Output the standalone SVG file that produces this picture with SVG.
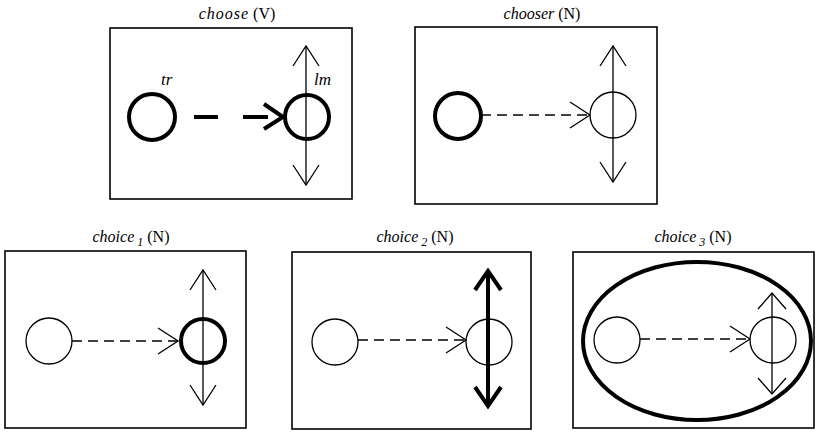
<svg xmlns="http://www.w3.org/2000/svg" width="817" height="432" viewBox="0 0 817 432">
<style>
.frame{fill:none;stroke:#000;stroke-width:1.6}
.title{font-family:"Liberation Serif",serif;font-size:16px;fill:#000;text-anchor:middle}
.it{font-style:italic}
.sub{font-style:italic;font-size:12px}
.lab{font-family:"Liberation Serif",serif;font-size:17px;font-style:italic;fill:#000}
.thin{fill:none;stroke:#000;stroke-width:1.3}
.thick{fill:none;stroke:#000;stroke-width:4}
.dash{fill:none;stroke:#000;stroke-width:1.3;stroke-dasharray:10 6}
.vert{fill:none;stroke:#000;stroke-width:1.3;marker-start:url(#open);marker-end:url(#open)}
.vertS{fill:none;stroke:#000;stroke-width:1.3;marker-start:url(#openS);marker-end:url(#openS)}
.vertB{fill:none;stroke:#000;stroke-width:4;marker-start:url(#openB);marker-end:url(#openB)}
</style>
<defs>
<marker id="open" markerUnits="userSpaceOnUse" viewBox="-1 -15 24 30" refX="20" refY="0" markerWidth="24" markerHeight="30" orient="auto-start-reverse" overflow="visible">
<path d="M0,-13 L20,0 L0,13" fill="none" stroke="#000" stroke-width="1.3"/>
</marker>
<marker id="openS" markerUnits="userSpaceOnUse" viewBox="-1 -15 24 30" refX="16" refY="0" markerWidth="24" markerHeight="30" orient="auto-start-reverse" overflow="visible">
<path d="M0,-14 L16,0 L0,14" fill="none" stroke="#000" stroke-width="1.3"/>
</marker>
<marker id="openB" markerUnits="userSpaceOnUse" viewBox="-3 -16 26 32" refX="19" refY="0" markerWidth="26" markerHeight="32" orient="auto-start-reverse" overflow="visible">
<path d="M0,-13 L19,0 L0,13" fill="none" stroke="#000" stroke-width="4" stroke-linejoin="miter"/>
</marker>
</defs>

<g id="panel-choose">
<rect class="frame" x="110" y="28" width="242" height="171"/>
<text class="title" x="237" y="19"><tspan class="it" letter-spacing="1">choose</tspan> (V)</text>
<g id="choose-tr"><circle class="thick" cx="152" cy="117" r="23"/><text class="lab" x="161" y="85">tr</text></g>
<g id="choose-lm"><circle class="thick" cx="307" cy="117" r="22"/><text class="lab" x="314" y="85">lm</text></g>
</g>

<g id="panel-chooser">
<rect class="frame" x="415" y="27" width="242" height="177"/>
<text class="title" x="542" y="19"><tspan class="it">chooser</tspan> (N)</text>
<g id="chooser-tr"><circle class="thick" cx="458" cy="116" r="23"/></g>
<g id="chooser-lm"><circle class="thin" cx="613" cy="115" r="23"/></g>
</g>

<g id="panel-choice1">
<rect class="frame" x="5" y="251" width="241" height="177"/>
<text class="title" x="131" y="242"><tspan class="it">choice</tspan><tspan class="sub" dy="4"> 1</tspan><tspan dy="-4"> (N)</tspan></text>
<g id="choice1-tr"><circle class="thin" cx="49" cy="341" r="23"/></g>
<g id="choice1-lm"><circle class="thick" cx="203" cy="341" r="22"/></g>
</g>

<g id="panel-choice2">
<rect class="frame" x="292" y="252" width="239" height="177"/>
<text class="title" x="415" y="242"><tspan class="it">choice</tspan><tspan class="sub" dy="4"> 2</tspan><tspan dy="-4"> (N)</tspan></text>
<g id="choice2-tr"><circle class="thin" cx="335" cy="342" r="23"/></g>
<g id="choice2-lm"><circle class="thin" cx="489" cy="342" r="23"/></g>
</g>

<g id="panel-choice3">
<rect class="frame" x="573" y="252" width="241" height="176"/>
<text class="title" x="693" y="242"><tspan class="it">choice</tspan><tspan class="sub" dy="4"> 3</tspan><tspan dy="-4">  (N)</tspan></text>
<ellipse class="thick" cx="697" cy="341" rx="114" ry="79"/>
<g id="choice3-tr"><circle class="thin" cx="617" cy="340" r="23"/></g>
<g id="choice3-lm"><circle class="thin" cx="773" cy="340" r="23"/></g>
</g>

<g id="connectors">
<!-- choose -->
<line class="thick" x1="194" y1="117" x2="218" y2="117"/>
<line class="thick" x1="243" y1="117" x2="268" y2="117"/>
<path class="thick" d="M264,104 L283,117 L264,129"/>
<line class="vert" x1="306" y1="46" x2="306" y2="185"/>
<!-- chooser -->
<line class="dash" x1="481" y1="115" x2="590" y2="115" marker-end="url(#open)"/>
<line class="vert" x1="613" y1="46" x2="613" y2="182"/>
<!-- choice1 -->
<line class="dash" x1="72" y1="341" x2="178" y2="341" marker-end="url(#open)"/>
<line class="vert" x1="203" y1="270" x2="203" y2="405"/>
<!-- choice2 -->
<line class="dash" x1="358" y1="340" x2="466" y2="340" marker-end="url(#open)"/>
<line class="vertB" x1="488" y1="271" x2="488" y2="406"/>
<!-- choice3 -->
<line class="dash" x1="640" y1="339" x2="750" y2="339" marker-end="url(#open)"/>
<line class="vertS" x1="772" y1="293" x2="772" y2="394"/>
</g>
</svg>
